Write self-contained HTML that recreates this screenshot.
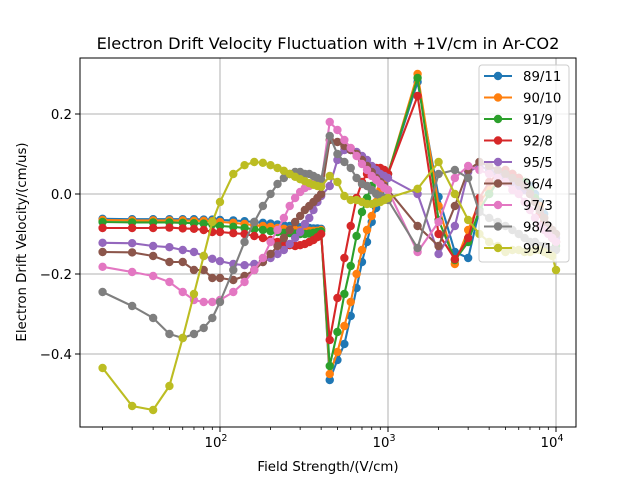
<!DOCTYPE html>
<html><head><meta charset="utf-8"><style>
body{margin:0;background:#fff}
svg{display:block;font-family:"DejaVu Sans","Liberation Sans",sans-serif}
</style></head><body>
<svg id="chart" width="640" height="480" xmlns="http://www.w3.org/2000/svg">
<rect width="640" height="480" fill="#fff"/>
<text x="328" y="49" font-size="16.2" text-anchor="middle">Electron Drift Velocity Fluctuation with +1V/cm in Ar-CO2</text>
<text x="328" y="471" font-size="13.3" text-anchor="middle">Field Strength/(V/cm)</text>
<text transform="translate(26,242) rotate(-90)" font-size="13.3" text-anchor="middle">Electron Drift Velocity/(cm/us)</text>
<g id="grid"></g><g id="series"></g><g id="axes"></g><g id="legend"></g>
</svg>
<script>
const fields = [20,30,40,50,60,70,80,90,100,120,140,160,180,200,220,240,260,280,300,320,340,360,380,400,450,500,550,600,650,700,750,800,850,900,950,1000,1500,2000,2500,3000,3500,4000,4500,5000,5500,6000,6500,7000,7500,8000,8500,9000,9500,10000];
const seriesNames = ["89/11","90/10","91/9","92/8","95/5","96/4","97/3","98/2","99/1"];
const colors = ["#1f77b4","#ff7f0e","#2ca02c","#d62728","#9467bd","#8c564b","#e377c2","#7f7f7f","#bcbd22"];
const s8911 = [-.062,-.063,-.063,-.063,-.063,-.063,-.064,-.064,-.065,-.066,-.068,-.070,-.072,-.074,-.076,-.078,-.08,-.082,-.083,-.084,-.085,-.086,-.086,-.087,-.465,-.415,-.375,-.305,-.235,-.17,-.12,-.07,-.035,0,.03,.05,.28,-.007,-.145,-.16,-.04,0,.03,.04,.05,.04,.03,.02,0,-.02,-.05,-.08,-.1,-.12];
const s9010 = [-.065,-.066,-.066,-.066,-.066,-.067,-.067,-.068,-.07,-.072,-.075,-.078,-.08,-.082,-.085,-.087,-.089,-.09,-.091,-.092,-.092,-.092,-.092,-.09,-.45,-.395,-.33,-.27,-.2,-.14,-.09,-.055,-.02,.01,.035,.05,.30,-.03,-.175,-.09,-.02,.01,.03,.05,.05,.04,.03,.01,-.01,-.03,-.06,-.09,-.11,-.12];
const s919 = [-.07,-.071,-.071,-.071,-.072,-.073,-.074,-.076,-.08,-.082,-.085,-.088,-.09,-.093,-.095,-.097,-.098,-.099,-.1,-.1,-.099,-.097,-.095,-.093,-.43,-.345,-.25,-.18,-.105,-.045,-.01,.02,.04,.05,.05,.05,.29,-.065,-.165,-.12,-.04,0,.03,.04,.05,.04,.03,.01,-.01,-.04,-.07,-.09,-.11,-.13];
const s928 = [-.085,-.085,-.085,-.084,-.086,-.087,-.09,-.095,-.095,-.098,-.1,-.105,-.11,-.115,-.12,-.125,-.128,-.13,-.128,-.125,-.12,-.115,-.108,-.1,-.365,-.26,-.16,-.08,-.01,.03,.05,.06,.065,.065,.06,.05,.245,-.1,-.163,-.11,-.01,.03,.05,.06,.05,.04,.02,0,-.02,-.05,-.07,-.09,-.11,-.12];
const s955 = [-.122,-.123,-.13,-.133,-.14,-.145,-.155,-.162,-.168,-.175,-.178,-.175,-.17,-.16,-.15,-.14,-.125,-.11,-.095,-.075,-.06,-.04,-.02,-.005,.02,.085,.11,.11,.105,.095,.085,.07,.06,.05,.045,.04,0,-.15,-.08,.055,.07,.06,.05,.04,.03,.02,.01,0,-.02,-.04,-.06,-.08,-.1,-.11];
const s964 = [-.145,-.146,-.155,-.17,-.17,-.19,-.19,-.21,-.21,-.215,-.205,-.19,-.17,-.15,-.13,-.11,-.09,-.07,-.055,-.04,-.03,-.02,-.01,0,.135,.13,.12,.11,.1,.085,.07,.055,.04,.03,.02,.01,-.08,-.13,-.03,.06,.08,.07,.06,.05,.04,.03,.02,0,-.02,-.04,-.06,-.08,-.09,-.1];
const s973 = [-.182,-.195,-.205,-.22,-.245,-.265,-.27,-.27,-.265,-.245,-.22,-.19,-.16,-.12,-.09,-.06,-.03,-.01,.005,.015,.02,.025,.025,.025,.18,.16,.135,.115,.095,.075,.06,.045,.035,.025,.015,.01,-.145,-.07,.04,.07,.06,.05,.04,.03,.01,0,-.02,-.04,-.06,-.08,-.09,-.1,-.11,-.12];
const s982 = [-.245,-.28,-.31,-.35,-.36,-.35,-.335,-.31,-.27,-.19,-.12,-.07,-.03,0,.025,.04,.05,.055,.055,.05,.05,.045,.04,.035,.145,.1,.08,.065,.04,.025,.02,.01,0,-.005,-.01,-.015,-.135,.05,.06,.04,-.045,-.06,-.07,-.08,-.09,-.1,-.11,-.12,-.12,-.13,-.13,-.14,-.14,-.14];
const s991 = [-.435,-.53,-.54,-.48,-.36,-.25,-.155,-.07,-.02,.05,.072,.08,.078,.072,.065,.058,.05,.043,.037,.032,.027,.023,.02,.018,.045,.03,-.005,-.015,-.015,-.02,-.025,-.025,-.022,-.02,-.015,-.01,.013,.08,0,-.065,-.1,-.12,-.13,-.145,-.14,-.14,-.145,-.145,-.14,-.14,-.145,-.15,-.155,-.19];
const allSeries = [s8911,s9010,s919,s928,s955,s964,s973,s982,s991];
const yTicks = [0.2,0.0,-0.2,-0.4];
const yTickLabels = ["0.2","0.0","\u22120.2","\u22120.4"];
const xMajor = [100,1000,10000];
const xMajorExp = ["2","3","4"];

const L=80,R=576,T=58,B=427;
const xMinLog=Math.log10(14.68), xMaxLog=4.119, yMin=-0.5825, yMax=0.34;
const xs=v=>L+(Math.log10(v)-xMinLog)/(xMaxLog-xMinLog)*(R-L);
const ys=v=>B-(v-yMin)/(yMax-yMin)*(B-T);
const NS="http://www.w3.org/2000/svg";
function mk(tag,attrs,parent){const e=document.createElementNS(NS,tag);for(const k in attrs)e.setAttribute(k,attrs[k]);parent.appendChild(e);return e;}
const grid=document.getElementById('grid'),axes=document.getElementById('axes'),ser=document.getElementById('series'),leg=document.getElementById('legend');
xMajor.forEach((v,i)=>{
  const x=xs(v);
  const g=mk('line',{x1:x,x2:x,y1:T,y2:B,stroke:'#b0b0b0','stroke-width':1},grid);
  
  
  mk('line',{x1:x,x2:x,y1:B,y2:B+5,stroke:'#000','stroke-width':1},axes);
  const t=mk('text',{x:x-4,y:B+20,'font-size':13.3,'text-anchor':'middle'},axes);
  
  
  t.textContent='10';
  const s=mk('tspan',{dy:-6,'font-size':9.5},t);s.textContent=xMajorExp[i];
});
for(let d=1;d<=4;d++){for(let m=2;m<=9;m++){const v=m*Math.pow(10,d);const x=xs(v);if(x<L||x>R)continue;mk('line',{x1:x,x2:x,y1:B,y2:B+3,stroke:'#000','stroke-width':0.8},axes);}}
yTicks.forEach((v,i)=>{
  const y=ys(v);
  const g=mk('line',{x1:L,x2:R,y1:y,y2:y,stroke:'#b0b0b0','stroke-width':1},grid);
  
  
  mk('line',{x1:L-5,x2:L,y1:y,y2:y,stroke:'#000','stroke-width':1},axes);
  const t=mk('text',{x:L-8,y:y+5,'font-size':13.3,'text-anchor':'end'},axes);
  
  
  t.textContent=yTickLabels[i];
});
const frame=mk('rect',{x:L,y:T,width:R-L,height:B-T,fill:'none',stroke:'#000','stroke-width':1},axes);


allSeries.forEach((vals,si)=>{
  const g=mk('g',{},ser);
  
  
  const pts=vals.map((v,i)=>xs(fields[i]).toFixed(1)+','+ys(v).toFixed(1)).join(' ');
  mk('polyline',{points:pts,fill:'none',stroke:colors[si],'stroke-width':2.1},g);
  vals.forEach((v,i)=>{
    const c=mk('circle',{cx:xs(fields[i]),cy:ys(v),r:4.2,fill:colors[si]},g);
    
    
  });
});
const lb=mk('rect',{x:479,y:65,width:90,height:197,rx:3,fill:'#fff','fill-opacity':0.8,stroke:'#ccc','stroke-width':1},leg);


seriesNames.forEach((n,i)=>{
  const y=76+i*21.5;
  const g=mk('g',{},leg);
  
  
  mk('line',{x1:484,x2:512,y1:y,y2:y,stroke:colors[i],'stroke-width':2.1},g);
  mk('circle',{cx:498,cy:y,r:4.2,fill:colors[i]},g);
  const t=mk('text',{x:523,y:y+5,'font-size':13.3},g);t.textContent=n;
});
</script>
</body></html>
